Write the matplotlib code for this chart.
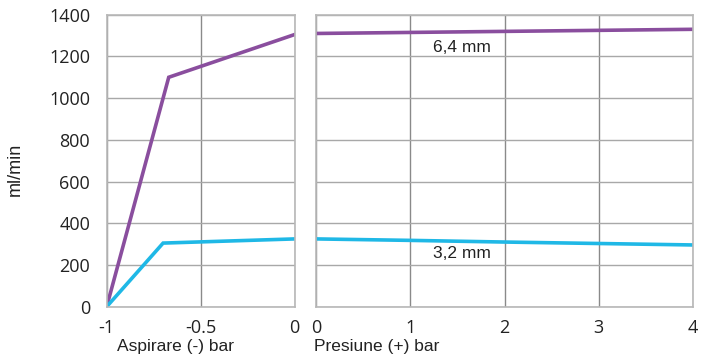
import matplotlib
matplotlib.use("Agg")
import matplotlib.pyplot as plt

# Data
vac_x_64 = [-1, -0.67, 0]
vac_y_64 = [0, 1100, 1305]
vac_x_32 = [-1, -0.70, 0]
vac_y_32 = [0, 305, 325]
pres_x = [0, 1, 2, 3, 4]
pres_y_64 = [1310, 1315, 1320, 1325, 1330]
pres_y_32 = [325, 318, 310, 303, 296]
y_ticks = [0, 200, 400, 600, 800, 1000, 1200, 1400]
left_xticks = [-1, -0.5, 0]
left_xticklabels = ["-1", "-0.5", "0"]
right_xticks = [0, 1, 2, 3, 4]
label_64 = "6,4 mm"
label_32 = "3,2 mm"

purple = "#8a4e9e"
cyan = "#1fb8e6"
W, H = 701, 357
fig = plt.figure(figsize=(W / 100, H / 100), dpi=100)
plt.rcParams['font.family'] = ['Open Sans', 'DejaVu Sans']

def px_axes(x0, x1, y0, y1):
    return fig.add_axes([x0 / W, 1 - y1 / H, (x1 - x0) / W, (y1 - y0) / H])

axL = px_axes(106.7, 294.7, 14.7, 306.7)
axR = px_axes(316, 693, 14.7, 306.7)

for ax in (axL, axR):
    ax.set_ylim(0, 1400)
    ax.set_yticks(y_ticks)
    for s in ax.spines.values():
        s.set_color("#b8b8b8")
        s.set_linewidth(1.2)
    ax.grid(axis="y", color="#a8a8a8", linewidth=1.0)
    ax.grid(axis="x", color="#8a8a8a", linewidth=1.0)
    ax.set_axisbelow(True)
    ax.tick_params(length=0, labelsize=13, colors="#222222")
    ax.tick_params(axis="y", pad=12)
    ax.tick_params(axis="x", pad=9)

axL.set_xlim(-1, 0)
axL.set_xticks(left_xticks)
axL.set_xticklabels(left_xticklabels)
axL.plot(vac_x_64, vac_y_64, color=purple, linewidth=2.6, solid_joinstyle="miter")
axL.plot(vac_x_32, vac_y_32, color=cyan, linewidth=2.6, solid_joinstyle="miter")
axL.set_ylabel("ml/min", fontsize=13, family="Liberation Sans", color="#222222", va="center")
axL.yaxis.set_label_coords(-0.488, 0.47)
axL.set_xlabel("Aspirare (-) bar", fontsize=12.5, family="Liberation Sans", color="#222222", va="center", ha="left")
axL.xaxis.set_label_coords(0.055, -0.135)

axR.set_xlim(0, 4)
axR.set_xticks(right_xticks)
axR.set_yticklabels([])
axR.plot(pres_x, pres_y_64, color=purple, linewidth=2.6)
axR.plot(pres_x, pres_y_32, color=cyan, linewidth=2.6)
axR.set_xlabel("Presiune (+) bar", fontsize=12.5, family="Liberation Sans", color="#222222", va="center", ha="left")
axR.xaxis.set_label_coords(-0.005, -0.135)
axR.text(1.55, 1245, label_64, fontsize=12.5, family="Liberation Sans", ha="center", va="center", color="#222222")
axR.text(1.55, 257, label_32, fontsize=12.5, family="Liberation Sans", ha="center", va="center", color="#222222")

fig.savefig("out.png", dpi=100, facecolor="white")
